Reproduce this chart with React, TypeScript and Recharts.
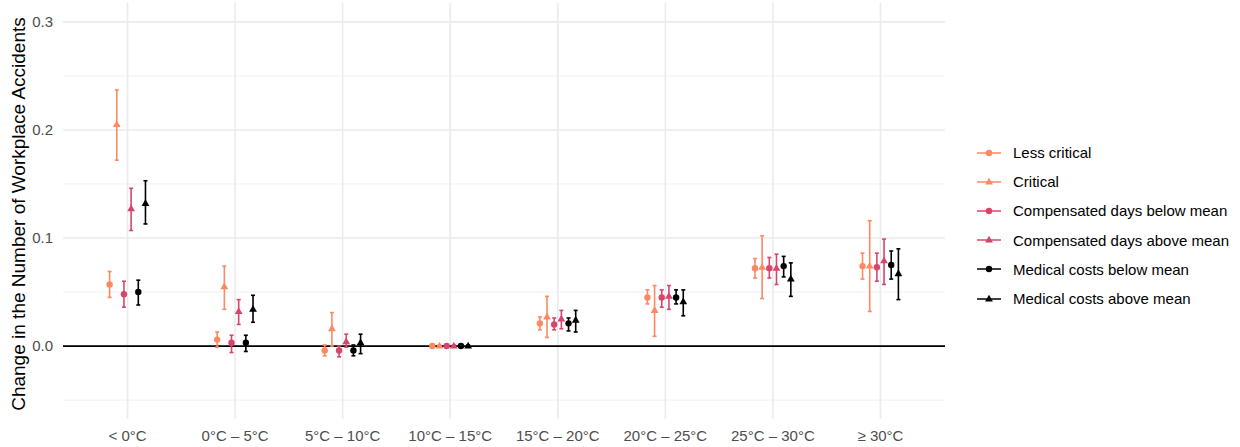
import React from "react";
import { ComposedChart, Scatter, ErrorBar, XAxis, YAxis, CartesianGrid, ReferenceLine } from "recharts";

const categories = ["< 0°C", "0°C – 5°C", "5°C – 10°C", "10°C – 15°C", "15°C – 20°C", "20°C – 25°C", "25°C – 30°C", "≥ 30°C"];
const yTicks = [0, 0.1, 0.2, 0.3];
const yMinor = [-0.05, 0.05, 0.15, 0.25];

const lessCritical = [0.057, 0.006, -0.004, 0.0, 0.021, 0.045, 0.072, 0.074];
const lessCriticalLo = [0.045, -0.001, -0.009, -0.001, 0.015, 0.039, 0.063, 0.062];
const lessCriticalHi = [0.069, 0.013, 0.001, 0.001, 0.027, 0.052, 0.081, 0.086];

const critical = [0.205, 0.055, 0.016, 0.0, 0.027, 0.033, 0.073, 0.074];
const criticalLo = [0.172, 0.034, 0.0, -0.001, 0.008, 0.009, 0.044, 0.032];
const criticalHi = [0.237, 0.074, 0.031, 0.001, 0.046, 0.056, 0.102, 0.116];

const compBelow = [0.048, 0.003, -0.004, 0.0, 0.02, 0.045, 0.072, 0.073];
const compBelowLo = [0.036, -0.006, -0.01, -0.001, 0.015, 0.036, 0.063, 0.06];
const compBelowHi = [0.06, 0.01, 0.0, 0.001, 0.026, 0.052, 0.082, 0.086];

const compAbove = [0.127, 0.032, 0.004, 0.0, 0.025, 0.046, 0.072, 0.079];
const compAboveLo = [0.107, 0.02, -0.001, -0.001, 0.016, 0.034, 0.057, 0.057];
const compAboveHi = [0.146, 0.043, 0.011, 0.001, 0.033, 0.056, 0.085, 0.099];

const medBelow = [0.05, 0.003, -0.004, 0.0, 0.021, 0.045, 0.074, 0.075];
const medBelowLo = [0.038, -0.005, -0.009, -0.001, 0.014, 0.039, 0.064, 0.062];
const medBelowHi = [0.061, 0.01, 0.001, 0.001, 0.026, 0.052, 0.083, 0.088];

const medAbove = [0.132, 0.034, 0.003, 0.0, 0.024, 0.041, 0.062, 0.067];
const medAboveLo = [0.113, 0.022, -0.007, -0.001, 0.013, 0.028, 0.046, 0.043];
const medAboveHi = [0.153, 0.047, 0.011, 0.001, 0.033, 0.052, 0.077, 0.09];

const ORANGE = "#FC8961";
const PINK = "#D8456C";
const BLACK = "#000004";
const FONT = "'Liberation Sans', Arial, sans-serif";

type Shape = "circle" | "triangle";
const series: { name: string; color: string; shape: Shape; vals: number[]; lo: number[]; hi: number[] }[] = [
  { name: "Less critical", color: ORANGE, shape: "circle", vals: lessCritical, lo: lessCriticalLo, hi: lessCriticalHi },
  { name: "Critical", color: ORANGE, shape: "triangle", vals: critical, lo: criticalLo, hi: criticalHi },
  { name: "Compensated days below mean", color: PINK, shape: "circle", vals: compBelow, lo: compBelowLo, hi: compBelowHi },
  { name: "Compensated days above mean", color: PINK, shape: "triangle", vals: compAbove, lo: compAboveLo, hi: compAboveHi },
  { name: "Medical costs below mean", color: BLACK, shape: "circle", vals: medBelow, lo: medBelowLo, hi: medBelowHi },
  { name: "Medical costs above mean", color: BLACK, shape: "triangle", vals: medAbove, lo: medAboveLo, hi: medAboveHi },
];

const DODGE = 0.4;

function Marker({ cx, cy, color, shape }: { cx: number; cy: number; color: string; shape: Shape }) {
  if (shape === "circle") return <circle cx={cx} cy={cy} r={3.2} fill={color} />;
  return <polygon points={`${cx},${cy - 4.3} ${cx - 3.9},${cy + 2.5} ${cx + 3.9},${cy + 2.5}`} fill={color} />;
}

function LegendBox() {
  return (
    <div style={{ position: "absolute", left: 976, top: 138, fontFamily: FONT, fontSize: 15, color: "#000" }}>
      {series.map((s) => (
        <div key={s.name} style={{ display: "flex", alignItems: "center", height: 29.2 }}>
          <svg width={37} height={14} style={{ overflow: "visible" }}>
            <line x1={1} x2={25} y1={7} y2={7} stroke={s.color} strokeWidth={1.5} />
            <Marker cx={13} cy={7} color={s.color} shape={s.shape} />
          </svg>
          <span style={{ whiteSpace: "nowrap" }}>{s.name}</span>
        </div>
      ))}
    </div>
  );
}

function YTitle(props: any) {
  const vb = props.viewBox || { y: 3, height: 416 };
  const cy = vb.y + vb.height / 2 + 3;
  return (
    <text x={18} y={cy} transform={`rotate(-90, 18, ${cy})`} textAnchor="middle" dominantBaseline="central"
      style={{ fontFamily: FONT, fontSize: 19, fill: "#000" }}>
      Change in the Number of Workplace Accidents
    </text>
  );
}

export default function App() {
  return (
    <div style={{ width: 1240, height: 447, position: "relative", background: "#fff" }}>
      <style>{`body{margin:0}`}</style>
      <ComposedChart width={1240} height={447} margin={{ top: 3, right: 295, bottom: 0, left: 0 }}>
        <CartesianGrid horizontalValues={yMinor} vertical={false} stroke="#EEEEEE" strokeWidth={0.9} />
        <CartesianGrid horizontalValues={yTicks} verticalValues={categories.map((_, i) => i + 1)} stroke="#EBEBEB" strokeWidth={1.6} />
        <XAxis type="number" dataKey="x" domain={[0.4, 8.6]} ticks={categories.map((_, i) => i + 1)}
          tickFormatter={(v: number) => categories[Math.round(v) - 1] ?? ""} interval={0}
          axisLine={false} tickLine={false} tickMargin={5} height={28}
          tick={{ fill: "#4D4D4D", fontSize: 15, fontFamily: FONT }} />
        <YAxis type="number" dataKey="y" domain={[-0.0675, 0.3175]} ticks={yTicks} width={63}
          tickFormatter={(v: number) => v.toFixed(1)} axisLine={false} tickLine={false} tickMargin={4}
          tick={{ fill: "#4D4D4D", fontSize: 15, fontFamily: FONT }} label={<YTitle />} allowDataOverflow />
        <ReferenceLine y={0} stroke="#000" strokeWidth={1.8} />
        {series.map((s, k) => {
          const off = (k - 2.5) * (DODGE / 6);
          const data = categories.map((c, i) => ({
            x: i + 1 + off,
            y: s.vals[i],
            err: [s.vals[i] - s.lo[i], s.hi[i] - s.vals[i]],
          }));
          return (
            <Scatter key={s.name} name={s.name} data={data} isAnimationActive={false}
              shape={(p: any) => <Marker cx={p.cx} cy={p.cy} color={s.color} shape={s.shape} />}>
              <ErrorBar dataKey="err" direction="y" width={2} stroke={s.color} strokeWidth={1.6} isAnimationActive={false} />
            </Scatter>
          );
        })}
      </ComposedChart>
      <LegendBox />
    </div>
  );
}
